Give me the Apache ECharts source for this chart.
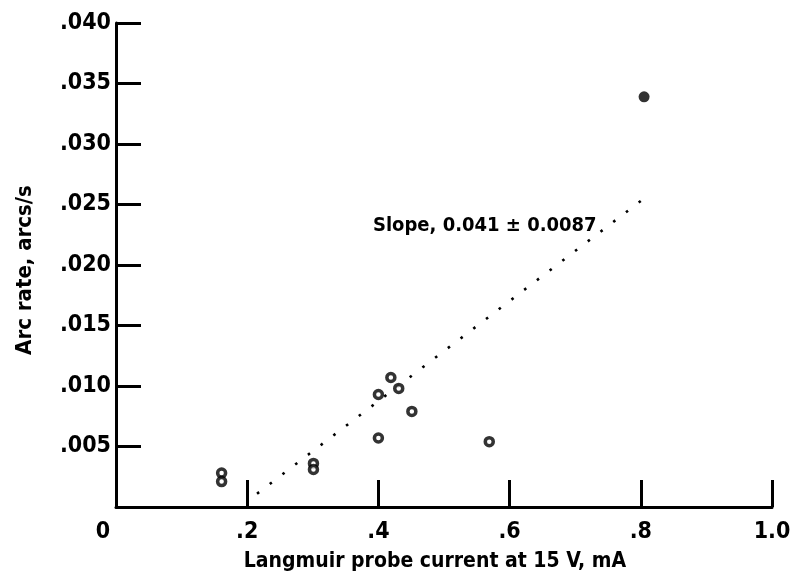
<!DOCTYPE html>
<html>
<head>
<meta charset="utf-8">
<script src="https://cdn.jsdelivr.net/npm/echarts@6/dist/echarts.min.js"></script>
<style>
  html, body { margin: 0; padding: 0; background: #fff; }
  #chart { width: 792px; height: 581px; }
</style>
</head>
<body>
<div id="chart"></div>
<script>
// Langmuir probe current (mA) vs. arc rate (arcs/s)
const probeCurrent = [0.161, 0.161, 0.301, 0.301, 0.400, 0.400, 0.419, 0.431, 0.451, 0.569];
const arcRate      = [0.0028, 0.0021, 0.0036, 0.0031, 0.0057, 0.0093, 0.0107, 0.0098, 0.0079, 0.0054];

// high-current point, drawn solid
const solidCurrent = [0.805];
const solidRate    = [0.0339];

// least-squares fit line end points (slope 0.041)
const fitCurrent = [0.215, 0.805];
const fitRate    = [0.0011, 0.0255];

const slopeText = 'Slope, 0.041 \u00b1 0.0087';
const xTitle = 'Langmuir probe current at 15 V, mA';
const yTitle = 'Arc rate, arcs/s';

const FONT = "'Liberation Sans Narrow', 'DejaVu Sans Condensed', 'Liberation Sans', sans-serif";

const zip = (a, b) => a.map((v, i) => [v, b[i]]);

const chart = echarts.init(document.getElementById('chart'), null, { renderer: 'canvas' });

chart.setOption({
  backgroundColor: '#ffffff',
  animation: false,
  grid: { left: 116, right: 20, top: 23, bottom: 74, containLabel: false, outerBoundsMode: 'none' },
  xAxis: {
    type: 'value',
    min: 0, max: 1, interval: 0.2,
    splitLine: { show: false },
    axisLine: { lineStyle: { color: '#000', width: 3 } },
    axisTick: { inside: true, length: 27, lineStyle: { color: '#000', width: 3 } },
    axisLabel: {
      color: '#000',
      fontFamily: FONT,
      fontWeight: 'bold',
      fontSize: 23,
      margin: 14,
      formatter: function (v) {
        if (v === 0) return '{z|0}';
        if (Math.abs(v - 1) < 1e-9) return '1.0';
        return '.' + Math.round(v * 10);
      },
      rich: { z: { fontFamily: FONT, fontWeight: 'bold', fontSize: 23, color: '#000', padding: [0, 26, 0, 0] } }
    },
    name: xTitle,
    nameLocation: 'middle',
    nameGap: 44,
    nameTextStyle: { color: '#000', fontFamily: FONT, fontWeight: 'bold', fontSize: 21, padding: [0, 18, 0, 0] }
  },
  yAxis: {
    type: 'value',
    min: 0, max: 0.04, interval: 0.005,
    splitLine: { show: false },
    axisLine: { lineStyle: { color: '#000', width: 3 } },
    axisTick: { inside: true, length: 25, lineStyle: { color: '#000', width: 3 } },
    axisLabel: {
      color: '#000',
      fontFamily: FONT,
      fontWeight: 'bold',
      fontSize: 23,
      margin: 5,
      formatter: function (v) {
        if (v === 0) return '';
        return '.' + (v.toFixed(3).split('.')[1]);
      }
    },
    name: yTitle,
    nameLocation: 'middle',
    nameGap: 80,
    nameTextStyle: { color: '#000', fontFamily: FONT, fontWeight: 'bold', fontSize: 22, padding: [0, 10, 0, 0] }
  },
  series: [
    {
      type: 'line',
      data: zip(fitCurrent, fitRate),
      symbol: 'none',
      silent: true,
      lineStyle: { color: '#000', width: 2.6, type: [2.6, 13.4] },
      z: 1
    },
    {
      type: 'scatter',
      data: zip(probeCurrent, arcRate),
      symbol: 'circle',
      symbolSize: 8,
      itemStyle: { color: '#fff', borderColor: '#000', borderWidth: 3.5 },
      z: 3
    },
    {
      type: 'scatter',
      data: zip(solidCurrent, solidRate),
      symbol: 'circle',
      symbolSize: 11,
      itemStyle: { color: '#000' },
      z: 3
    }
  ],
  graphic: [
    {
      type: 'text',
      left: 373,
      top: 216,
      style: {
        text: slopeText,
        fill: '#000',
        font: 'bold 20px ' + FONT
      },
      z: 5
    }
  ]
});
</script>
</body>
</html>
